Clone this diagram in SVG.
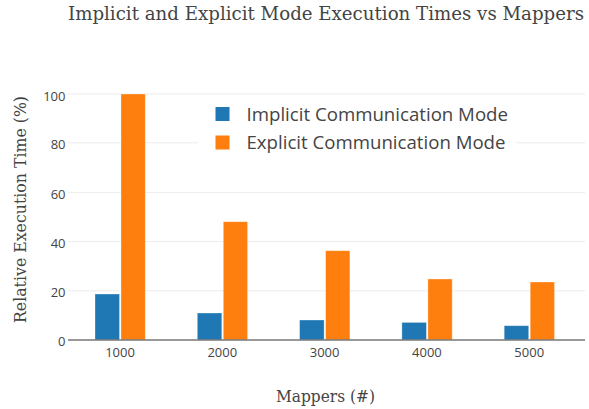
<svg xmlns="http://www.w3.org/2000/svg" width="589" height="409" viewBox="0 0 589 409">
<style>
.grid{stroke:#ececec;stroke-width:1}
.tick{font-family:"Open Sans",sans-serif;font-size:13px;fill:#444}
.serif{font-family:"DejaVu Serif","Liberation Serif",serif;fill:#444}
.leg{font-family:"Open Sans",sans-serif;font-size:18.5px;fill:#444}
.b{fill:#1f77b4;stroke:#fff;stroke-opacity:0.4;stroke-width:0.8}
.o{fill:#ff7f0e;stroke:#fff;stroke-opacity:0.4;stroke-width:0.8}
</style>
<rect width="589" height="409" fill="#fff"/>
<g id="grid">
<line class="grid" x1="68" y1="94" x2="585" y2="94"/>
<line class="grid" x1="68" y1="142.8" x2="585" y2="142.8"/>
<line class="grid" x1="68" y1="192.4" x2="585" y2="192.4"/>
<line class="grid" x1="68" y1="241.6" x2="585" y2="241.6"/>
<line class="grid" x1="68" y1="290.8" x2="585" y2="290.8"/>
</g>
<g id="bars">
<rect class="b" x="95" y="294" width="24.5" height="46"/>
<rect class="o" x="121" y="94" width="24.3" height="246"/>
<rect class="b" x="197.3" y="313" width="24.5" height="27"/>
<rect class="o" x="223.3" y="221.7" width="24.3" height="118.3"/>
<rect class="b" x="299.6" y="320" width="24.5" height="20"/>
<rect class="o" x="325.6" y="250.7" width="24.3" height="89.3"/>
<rect class="b" x="401.9" y="322.4" width="24.5" height="17.6"/>
<rect class="o" x="427.9" y="279" width="24.3" height="61"/>
<rect class="b" x="504.2" y="325.7" width="24.5" height="14.3"/>
<rect class="o" x="530.2" y="282" width="24.3" height="58"/>
</g>
<line id="xaxis" x1="68" y1="340" x2="585" y2="340" stroke="#777" stroke-width="1.5"/>
<g id="yticks" text-anchor="end">
<text class="tick" x="65.5" y="100.5">100</text>
<text class="tick" x="65.5" y="149">80</text>
<text class="tick" x="65.5" y="198.5">60</text>
<text class="tick" x="65.5" y="247.5">40</text>
<text class="tick" x="65.5" y="297">20</text>
<text class="tick" x="65.5" y="345.5">0</text>
</g>
<g id="xticks" text-anchor="middle">
<text class="tick" x="120" y="356.5">1000</text>
<text class="tick" x="222.3" y="356.5">2000</text>
<text class="tick" x="324.6" y="356.5">3000</text>
<text class="tick" x="426.9" y="356.5">4000</text>
<text class="tick" x="529.2" y="356.5">5000</text>
</g>
<g id="legend">
<rect x="198" y="100" width="318" height="58" fill="#fff"/>
<rect x="215.5" y="107" width="14" height="14" fill="#1f77b4"/>
<text class="leg" x="246.5" y="120.5" textLength="261.5" lengthAdjust="spacingAndGlyphs">Implicit Communication Mode</text>
<rect x="215.5" y="135.5" width="14" height="14" fill="#ff7f0e"/>
<text class="leg" x="246.5" y="149" textLength="259" lengthAdjust="spacingAndGlyphs">Explicit Communication Mode</text>
</g>
<text id="title" class="serif" x="68" y="20" font-size="18" textLength="516" lengthAdjust="spacingAndGlyphs">Implicit and Explicit Mode Execution Times vs Mappers</text>
<text id="xtitle" class="serif" x="325.5" y="401.5" font-size="17.5" text-anchor="middle" textLength="99" lengthAdjust="spacingAndGlyphs">Mappers (#)</text>
<text id="ytitle" class="serif" transform="translate(26,209.5) rotate(-90)" font-size="17.5" text-anchor="middle" textLength="227" lengthAdjust="spacingAndGlyphs">Relative Execution Time (%)</text>
</svg>
